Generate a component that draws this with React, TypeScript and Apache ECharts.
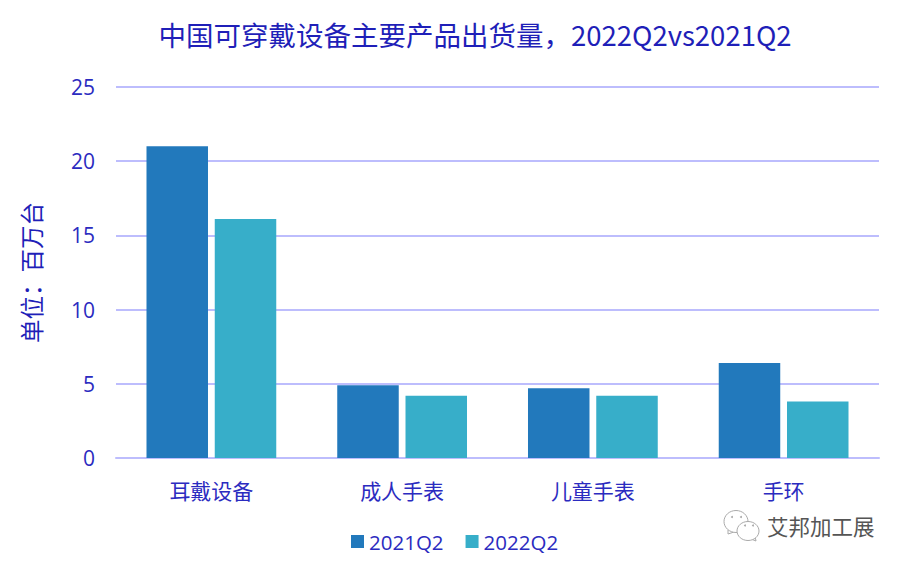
import React, { useEffect, useRef } from "react";
import * as echarts from "echarts";

const titleText = "中国可穿戴设备主要产品出货量，2022Q2vs2021Q2";
const yName = "单位：百万台";
const watermark = "艾邦加工展";
const categories = ["耳戴设备", "成人手表", "儿童手表", "手环"];
const seriesNames = ["2021Q2", "2022Q2"];
const values2021 = [21.0, 4.9, 4.7, 6.4];
const values2022 = [16.1, 4.2, 4.2, 3.8];
const colors = ["#2279BC", "#37AEC9"];
const fontFamily = '"Noto Sans CJK SC", "Open Sans", sans-serif';
const ink = "#2B2BC0";
const gridColor = "#BDBDFD";
const markGray = "#aaaaaa";

export default function App() {
  const ref = useRef<HTMLDivElement>(null);
  useEffect(() => {
    document.body.style.margin = "0";
    const chart = echarts.init(ref.current!, null, { renderer: "svg" });
    chart.setOption({
      animation: false,
      backgroundColor: "#ffffff",
      textStyle: { fontFamily },
      title: {
        text: titleText,
        left: 470,
        top: 15,
        textAlign: "center",
        textStyle: { color: "#1F1FB8", fontSize: 27.5, fontWeight: "normal", fontFamily },
      },
      legend: {
        data: seriesNames,
        icon: "rect",
        left: 346,
        top: 526,
        itemWidth: 13,
        itemHeight: 13,
        itemGap: 22,
        textStyle: { color: ink, fontSize: 20.5, fontFamily: '"Open Sans", sans-serif' },
      },
      grid: { left: 116, right: 26, top: 87, bottom: 109, containLabel: false },
      xAxis: {
        type: "category",
        data: categories,
        axisLine: { lineStyle: { color: gridColor, width: 2 } },
        axisTick: { show: false },
        axisLabel: { color: ink, fontSize: 21, margin: 21, fontFamily },
      },
      yAxis: {
        type: "value",
        min: 0,
        max: 25,
        interval: 5,
        name: yName,
        nameLocation: "middle",
        nameGap: 73,
        nameRotate: 90,
        nameTextStyle: { color: "#1F1FB8", fontSize: 23.5, fontFamily },
        axisLine: { show: false },
        axisTick: { show: false },
        axisLabel: { color: ink, fontSize: 21, margin: 21, fontFamily: '"Open Sans", sans-serif' },
        splitLine: { lineStyle: { color: gridColor, width: 2 } },
      },
      series: [
        {
          name: seriesNames[0],
          type: "bar",
          data: values2021,
          barWidth: 61.5,
          barGap: "11%",
          itemStyle: { color: colors[0] },
        },
        {
          name: seriesNames[1],
          type: "bar",
          data: values2022,
          barWidth: 61.5,
          itemStyle: { color: colors[1] },
        },
      ],
      graphic: [
        { type: "polyline", shape: { points: [[728, 530], [728, 534], [734, 532]] }, style: { fill: "#fff", stroke: markGray, lineWidth: 1 } },
        { type: "ellipse", shape: { cx: 736, cy: 521.5, rx: 12, ry: 11 }, style: { fill: "#fff", stroke: markGray, lineWidth: 1 } },
        { type: "circle", shape: { cx: 732, cy: 517, r: 1 }, style: { fill: markGray } },
        { type: "circle", shape: { cx: 741, cy: 517, r: 1 }, style: { fill: markGray } },
        { type: "polyline", shape: { points: [[751, 539], [756, 541], [755, 536]] }, style: { fill: "#fff", stroke: markGray, lineWidth: 1 } },
        { type: "ellipse", shape: { cx: 748, cy: 531, rx: 11, ry: 9.5 }, style: { fill: "#fff", stroke: markGray, lineWidth: 1 } },
        { type: "circle", shape: { cx: 745, cy: 525.5, r: 1 }, style: { fill: markGray } },
        { type: "circle", shape: { cx: 753, cy: 525.5, r: 1 }, style: { fill: markGray } },
        {
          type: "text",
          x: 767,
          y: 515,
          style: { text: watermark, fill: "#555555", fontSize: 21.5, fontFamily },
        },
      ],
    });
    return () => chart.dispose();
  }, []);
  return <div ref={ref} style={{ width: 905, height: 567, position: "absolute", left: 0, top: 0 }} />;
}
